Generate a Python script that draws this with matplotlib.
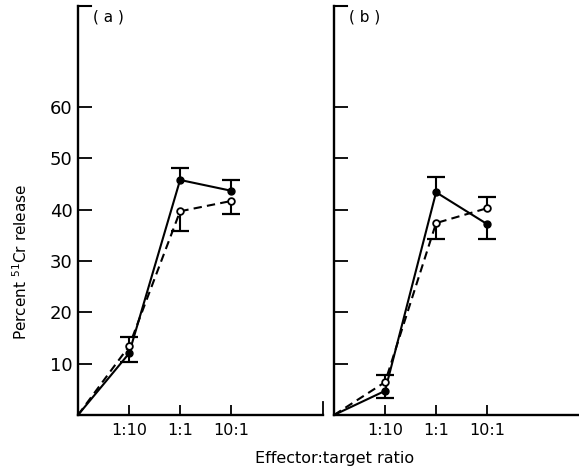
import numpy as np
import matplotlib
matplotlib.use("Agg")
import matplotlib.pyplot as plt

# Data
ratios = ['1:10', '1:1', '10:1']
yticks = [10, 20, 30, 40, 50, 60]

a_filled = [12.0, 45.8, 43.7]
a_open = [13.4, 39.7, 41.7]
# signed error bars: positive = bar drawn upward, negative = downward
a_filled_err = [-1.7, 2.3, 2.0]
a_open_err = [1.8, -3.9, -2.5]

b_filled = [4.7, 43.4, 37.2]
b_open = [6.4, 37.4, 40.3]
b_filled_err = [-1.4, 3.0, -2.9]
b_open_err = [1.4, -3.1, 2.2]

fig = plt.figure(figsize=(5.79, 4.70), dpi=100)
ax_a = fig.add_axes([78 / 579, 55 / 470, 245 / 579, 409 / 470])
ax_b = fig.add_axes([334 / 579, 55 / 470, 245 / 579, 409 / 470])


def draw_panel(ax, filled, open_, filled_err, open_err, label, show_y):
    x = np.arange(len(ratios) + 1)
    f = np.concatenate([[0], filled])
    o = np.concatenate([[0], open_])
    ax.plot(x, f, color='black', lw=1.5, zorder=2)
    ax.plot(x, o, color='black', lw=1.5, ls=(0, (4, 2.5)), zorder=2)

    for vals, errs in ((filled, filled_err), (open_, open_err)):
        xs = np.arange(1, len(vals) + 1)
        ends = np.array(vals) + np.array(errs)
        ax.vlines(xs, vals, ends, color='black', lw=1.5, zorder=3)
        ax.plot(xs, ends, '_', color='black', ms=13, mew=1.6, zorder=3)

    ax.plot(x[1:], filled, 'o', color='black', ms=5, zorder=4)
    ax.plot(x[1:], open_, 'o', mfc='white', mec='black', mew=1.3, ms=4.8, zorder=4)

    ax.set_xlim(0, 4.8)
    ax.set_ylim(0, 79.7)
    for s in ('top', 'right'):
        ax.spines[s].set_visible(False)
    for s in ('left', 'bottom'):
        ax.spines[s].set_linewidth(1.7)
    ax.set_xticks(range(1, len(ratios) + 1))
    ax.set_xticklabels(ratios, fontsize=11.5)
    ax.set_yticks(yticks)
    if show_y:
        ax.set_yticklabels([str(v) for v in yticks], fontsize=13)
    else:
        ax.set_yticklabels([])
    ax.tick_params(axis='x', direction='in', length=7, width=1.3, pad=6)
    ax.tick_params(axis='y', direction='in', length=10, width=1.3, pad=4)
    # small bracket tick at the top of the y-axis
    ax.plot([0, 0.25], [79.7, 79.7], color='black', lw=1.5, clip_on=False)
    ax.text(0.3, 77.5, label, fontsize=11, va='center', ha='left')


draw_panel(ax_a, a_filled, a_open, a_filled_err, a_open_err, '( a )', True)
draw_panel(ax_b, b_filled, b_open, b_filled_err, b_open_err, '( b )', False)
ax_a.plot([4.8, 4.8], [0, 2.5], color='black', lw=1.3, clip_on=False)

fig.text(21 / 579, 1 - 262 / 470, 'Percent $^{51}$Cr release', rotation=90,
         fontsize=11, ha='center', va='center')
fig.text(335 / 579, 1 - 458 / 470, 'Effector:target ratio', fontsize=11.5,
         ha='center', va='center')

fig.savefig('out.png', dpi=100)
